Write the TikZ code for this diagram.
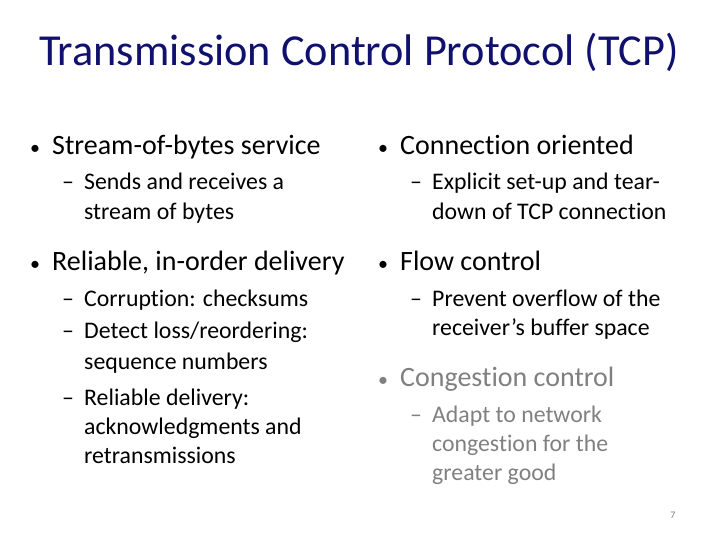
\documentclass[tikz,border=0pt]{standalone}
\usepackage{fontspec}
\setmainfont[Ligatures={NoCommon}]{Carlito}
\definecolor{navy}{RGB}{16,16,110}
\definecolor{gr}{RGB}{128,128,128}
\tikzset{
 t/.style={anchor=base west,inner sep=0pt,font=\fontsize{28}{32}\selectfont},
 s/.style={anchor=base west,inner sep=0pt,font=\fontsize{23.8}{28}\selectfont,align=left},
 bl/.style={anchor=base west,inner sep=0pt,font=\fontsize{20}{24}\selectfont},
}
\begin{document}
\begin{tikzpicture}[x=1pt,y=-1pt]
\useasboundingbox (0,0) rectangle (720,540);
\node[anchor=base,inner sep=0pt,font=\fontsize{44.3}{48}\selectfont,text=navy] (title) at (359,66) {Transmission Control Protocol (TCP)};
% left
\node[bl] (b1) at (30,155) {•};
\node[t] (l1) at (52,155) {Stream-of-bytes service};
\node[s] (d1) at (62,190) {–};
\node[s] (l1a) at (84,190) {Sends and receives a};
\node[s] (l1b) at (84,219) {stream of bytes};
\node[bl] (b2) at (30,270) {•};
\node[t] (l2) at (52,270) {Reliable, in-order delivery};
\node[s] (d2) at (62,306) {–};
\node[s] (l2a) at (84,306) {Corruption: checksums};
\node[s] (d3) at (62,338) {–};
\node[s] (l2b) at (84,338) {Detect loss/reordering:};
\node[s] (l2c) at (84,369) {sequence numbers};
\node[s] (d4) at (62,405) {–};
\node[s] (l2d) at (84,405) {Reliable delivery:};
\node[s] (l2e) at (84,434) {acknowledgments and};
\node[s] (l2f) at (84,463) {retransmissions};
% right
\node[bl] (b3) at (378,155) {•};
\node[t] (r1) at (400,155) {Connection oriented};
\node[s] (d5) at (410,190) {–};
\node[s] (r1a) at (432,190) {Explicit set-up and tear-};
\node[s] (r1b) at (432,219) {down of TCP connection};
\node[bl] (b4) at (378,270) {•};
\node[t] (r2) at (400,270) {Flow control};
\node[s] (d6) at (410,306) {–};
\node[s] (r2a) at (432,306) {Prevent overflow of the};
\node[s] (r2b) at (432,335) {receiver’s buffer space};
\node[bl,text=gr] (b5) at (378,386) {•};
\node[t,text=gr] (r3) at (400,386) {Congestion control};
\node[s,text=gr] (d7) at (410,422) {–};
\node[s,text=gr] (r3a) at (432,422) {Adapt to network};
\node[s,text=gr] (r3b) at (432,451) {congestion for the};
\node[s,text=gr] (r3c) at (432,480) {greater good};
\node[anchor=base,inner sep=0pt,font=\fontsize{10}{12}\selectfont,text=gr] (pg) at (673,518) {7};
\end{tikzpicture}
\end{document}
